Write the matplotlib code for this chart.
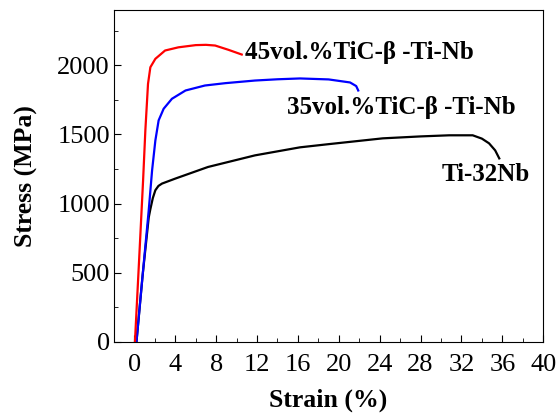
import matplotlib.pyplot as plt
from matplotlib.ticker import MultipleLocator

plt.rcParams['font.family'] = ['Liberation Serif', 'DejaVu Serif']

# Spänning-töjning
strain_45 = [0.05, 0.45, 0.85, 1.07, 1.33, 1.56, 2.05, 3.0, 4.3, 6.0, 7.0, 7.9, 9.2, 10.5]
stress_45 = [0, 580, 1170, 1530, 1866, 1986, 2047, 2107, 2130, 2146, 2148, 2143, 2112, 2078]

strain_35 = [0.2, 0.8, 1.4, 1.73, 2.05, 2.37, 2.86, 3.67, 5.0, 6.9, 8.9, 11.8, 14.0, 16.2, 19.0, 21.1, 21.7, 21.9]
stress_35 = [0, 480, 952, 1241, 1457, 1602, 1686, 1758, 1818, 1854, 1871, 1890, 1899, 1905, 1898, 1876, 1850, 1818]

strain_ti = [0.2, 0.8, 1.4, 1.56, 1.8, 2.05, 2.35, 2.7, 4.0, 7.2, 11.8, 16.2, 19.0, 24.3, 28.0, 30.8, 33.1, 34.0, 34.7, 35.3, 35.7]
stress_ti = [0, 480, 900, 960, 1040, 1097, 1128, 1145, 1181, 1265, 1349, 1407, 1430, 1472, 1486, 1494, 1494, 1470, 1436, 1385, 1327]

labels = ["45vol.%TiC-β -Ti-Nb", "35vol.%TiC-β -Ti-Nb", "Ti-32Nb"]
label_pos = [(10.8, 2090), (14.9, 1695), (30.1, 1212)]

fig = plt.figure(figsize=(5.56, 4.16), dpi=100)
ax = fig.add_axes([0.205, 0.178, 0.772, 0.798])

ax.plot(strain_ti, stress_ti, color="black", lw=1.6)
ax.plot(strain_35, stress_35, color="blue", lw=1.6)
ax.plot(strain_45, stress_45, color="red", lw=1.6)

for txt, (x, y) in zip(labels, label_pos):
    ax.text(x, y, txt, fontsize=18, fontweight="bold", va="center", ha="left")

ax.set_xlim(-2, 40)
ax.set_ylim(0, 2400)
ax.set_xticks(range(0, 41, 4))
ax.xaxis.set_minor_locator(MultipleLocator(2))
ax.yaxis.set_major_locator(MultipleLocator(500))
ax.yaxis.set_minor_locator(MultipleLocator(250))
ax.tick_params(which="both", direction="in", labelsize=19, top=False, right=False)
ax.tick_params(which="major", length=5)
ax.tick_params(axis="x", which="major", pad=9)
ax.tick_params(axis="y", which="major", pad=3)
ax.tick_params(which="minor", length=3)

ax.set_xlabel("Strain (%)", fontsize=18.5, fontweight="bold", labelpad=9)
ax.set_ylabel("Stress (MPa)", fontsize=18.5, fontweight="bold", labelpad=14)

fig.savefig("out.png", dpi=100)
